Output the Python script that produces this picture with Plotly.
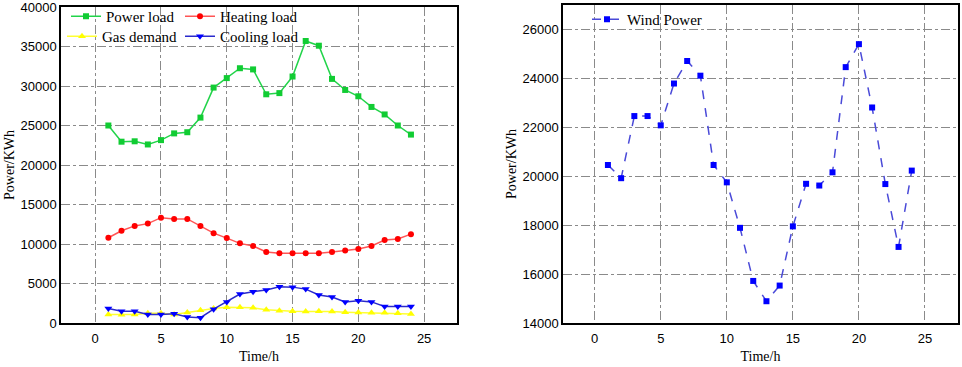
import plotly.graph_objects as go

hours = list(range(1, 25))
power_load = [25000, 22950, 23000, 22600, 23150, 24000, 24150, 26000, 29800, 31000, 32250, 32100,
              28950, 29100, 31200, 35700, 35100, 30900, 29500, 28700, 27350, 26400, 25000, 23850]
heating_load = [10790, 11670, 12290, 12580, 13330, 13170, 13170, 12290, 11375, 10750, 10080, 9750,
                9000, 8830, 8830, 8830, 8830, 9000, 9170, 9375, 9750, 10500, 10625, 11250]
gas_demand = [1080, 1040, 1080, 1250, 1250, 1080, 1330, 1625, 1830, 2000, 2000, 1920,
              1670, 1540, 1500, 1460, 1500, 1460, 1375, 1330, 1290, 1290, 1250, 1125]
cooling_load = [1830, 1500, 1500, 1080, 1080, 1170, 750, 670, 1750, 2670, 3670, 3960,
                4170, 4580, 4540, 4290, 3540, 3290, 2670, 2830, 2670, 2080, 2080, 2080]
wind_power = [20460, 19920, 22460, 22460, 22080, 23790, 24710, 24110, 20460, 19750, 17890, 15720,
              14890, 15530, 17950, 19690, 19620, 20160, 24460, 25400, 22810, 19680, 17110, 20230]

x_ticks = [0, 5, 10, 15, 20, 25]
left_y_ticks = [0, 5000, 10000, 15000, 20000, 25000, 30000, 35000, 40000]
right_y_ticks = [14000, 16000, 18000, 20000, 22000, 24000, 26000]

fig = go.Figure()

fig.add_trace(go.Scatter(x=hours, y=power_load, name="Power load", mode="lines+markers",
                         line=dict(color="#22d44a", width=1.5),
                         marker=dict(symbol="square", size=6, color="#11cc33"),
                         xaxis="x", yaxis="y", legend="legend"))
fig.add_trace(go.Scatter(x=hours, y=heating_load, name="Heating load", mode="lines+markers",
                         line=dict(color="#ff5555", width=1.5),
                         marker=dict(symbol="circle", size=6, color="#ff0000"),
                         xaxis="x", yaxis="y", legend="legend2"))
fig.add_trace(go.Scatter(x=hours, y=gas_demand, name="Gas demand", mode="lines+markers",
                         line=dict(color="#ffff33", width=1.5),
                         marker=dict(symbol="triangle-up", size=7, color="#ffff00"),
                         xaxis="x", yaxis="y", legend="legend3"))
fig.add_trace(go.Scatter(x=hours, y=cooling_load, name="Cooling load", mode="lines+markers",
                         line=dict(color="#2a2acc", width=1.5),
                         marker=dict(symbol="triangle-down", size=7, color="#0000ff"),
                         xaxis="x", yaxis="y", legend="legend4"))
fig.add_trace(go.Scatter(x=hours, y=wind_power, name="Wind Power", mode="lines+markers",
                         line=dict(color="#4a4ad8", width=1.5, dash="dash"),
                         marker=dict(symbol="square", size=6, color="#0000ff"),
                         xaxis="x2", yaxis="y2", legend="legend5"))

W, H = 962, 367
tick_font = dict(family="Liberation Sans, Arial, sans-serif", size=13, color="#000")
title_font = dict(family="Liberation Serif, Times New Roman, serif", size=14, color="#000")
legend_font = dict(family="Liberation Serif, Times New Roman, serif", size=15, color="#000")

common_x = dict(showgrid=True, gridcolor="#8a8a8a", griddash="dashdot", gridwidth=1,
                showline=True, linecolor="#000", linewidth=1.5, mirror=True,
                ticks="", tickfont=tick_font, zeroline=False, automargin=False,
                ticklabelstandoff=3,
                title=dict(text="Time/h", font=title_font, standoff=6), tickvals=x_ticks)
common_y = dict(showgrid=True, gridcolor="#8a8a8a", griddash="dashdot", gridwidth=1,
                showline=True, linecolor="#000", linewidth=1.5, mirror=True,
                ticks="", tickfont=tick_font, zeroline=False, automargin=False,
                tickformat="d", ticklabeloverflow="allow",
                title=dict(text="Power/KWh", font=title_font, standoff=3))


def leg(x_px, y_px):
    return dict(orientation="h", x=x_px / W, y=1 - y_px / H, xanchor="left", yanchor="top",
                bgcolor="rgba(0,0,0,0)", font=legend_font, itemwidth=30)


fig.update_layout(
    width=W, height=H,
    margin=dict(l=0, r=0, t=0, b=0),
    paper_bgcolor="white", plot_bgcolor="white",
    xaxis=dict(common_x, domain=[61 / W, 457 / W], range=[-2.6, 27.5], anchor="y"),
    yaxis=dict(common_y, domain=[1 - 323 / H, 1 - 7 / H], range=[0, 40000],
               tickvals=left_y_ticks, anchor="x"),
    xaxis2=dict(common_x, domain=[563 / W, 958 / W], range=[-2.4, 27.5], anchor="y2"),
    yaxis2=dict(common_y, domain=[1 - 323 / H, 1 - 5 / H], range=[14000, 27000],
                tickvals=right_y_ticks, anchor="x2"),
    legend=leg(66, 0),
    legend2=leg(180, 0),
    legend3=leg(62, 20),
    legend4=leg(180, 20),
    legend5=leg(587, 3),
    showlegend=True,
)

fig.write_html("out.html", config={"displayModeBar": False},
               post_script="document.body.style.margin='0';document.body.style.overflow='hidden';")
